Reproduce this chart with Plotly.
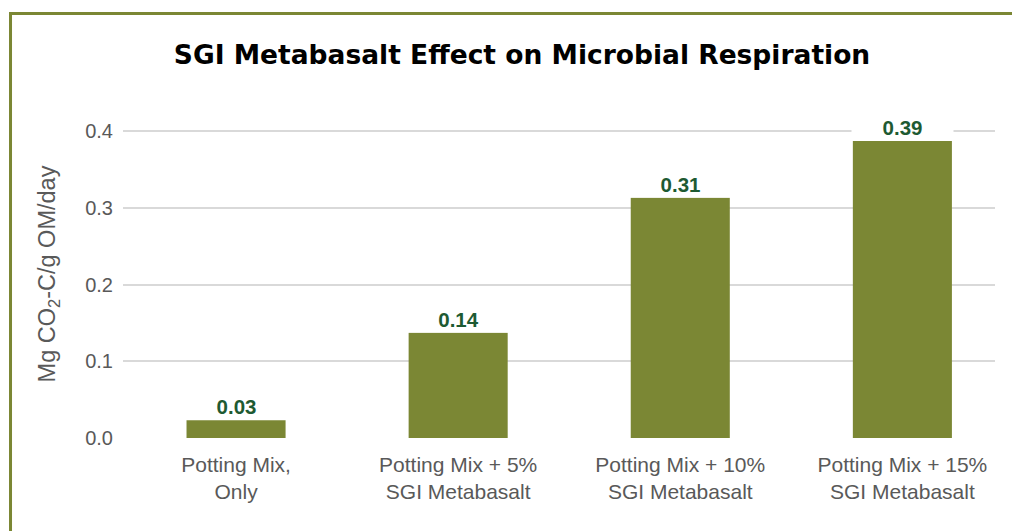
import plotly.graph_objects as go

# ---- data ----
categories = ["Potting Mix,<br>Only", "Potting Mix + 5%<br>SGI Metabasalt",
              "Potting Mix + 10%<br>SGI Metabasalt", "Potting Mix + 15%<br>SGI Metabasalt"]
values = [0.023, 0.137, 0.313, 0.387]
value_labels = ["0.03", "0.14", "0.31", "0.39"]
y_ticks = [0.0, 0.1, 0.2, 0.3, 0.4]
y_tick_labels = ["0.0", "0.1", "0.2", "0.3", "0.4"]

BAR = "#7B8734"
LABEL = "#1E5A32"
GRAY = "#595959"

fig = go.Figure()
fig.add_trace(go.Bar(x=list(range(len(categories))), y=values,
                     marker=dict(color=BAR, line=dict(width=0)),
                     hoverinfo="skip"))

for i, (v, t) in enumerate(zip(values, value_labels)):
    fig.add_annotation(x=i, y=v, text="<b>%s</b>" % t, showarrow=False,
                       xref="x", yref="y", yanchor="bottom", yshift=0,
                       bgcolor="white", width=99, borderpad=1,
                       font=dict(family="Arial, Liberation Sans", size=20.5, color=LABEL))

fig.update_layout(
    width=1012, height=523,
    margin=dict(l=115, r=25, t=102, b=93),
    paper_bgcolor="white", plot_bgcolor="white",
    bargap=0.554,
    showlegend=False,
    title=dict(text="<b>SGI Metabasalt Effect on Microbial Respiration</b>",
               x=514 / 1012, xanchor="center", xref="container",
               y=1 - 47 / 523, yanchor="middle", yref="container",
               font=dict(family="Verdana, DejaVu Sans", size=26.5, color="black")),
    xaxis=dict(range=[-0.509, 3.417], tickmode="array",
               tickvals=list(range(len(categories))), ticktext=categories,
               showgrid=False, zeroline=False, showline=False, ticks="",
               ticklabelstandoff=12,
               tickfont=dict(family="Arial, Liberation Sans", size=21, color=GRAY)),
    yaxis=dict(range=[0, 0.4274], tickmode="array", tickvals=y_ticks,
               ticktext=y_tick_labels, showgrid=True, gridcolor="#D9D9D9",
               gridwidth=2, zeroline=False, showline=False, ticks="",
               ticklabelstandoff=9,
               tickfont=dict(family="Arial, Liberation Sans", size=20, color=GRAY),
               title=dict(text="Mg CO<sub>2</sub>-C/g OM/day", standoff=22,
                          font=dict(family="Arial, Liberation Sans", size=23.5, color=GRAY))),
    shapes=[dict(type="rect", xref="paper", yref="paper",
                 x0=-0.129, x1=1.3, y0=-0.6, y1=(430 - 5.5) / 328,
                 line=dict(color=BAR, width=3), fillcolor="rgba(0,0,0,0)",
                 layer="above")],
)

fig.write_html("out.html")
